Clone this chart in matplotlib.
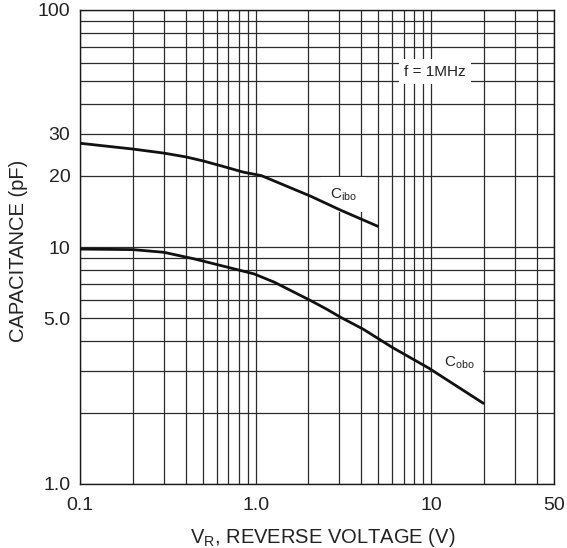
import matplotlib
matplotlib.use("Agg")
import matplotlib.pyplot as plt
from matplotlib.ticker import FixedLocator, FixedFormatter, LogLocator, NullFormatter

plt.rcParams['font.family'] = ['Liberation Sans', 'DejaVu Sans']
plt.rcParams['mathtext.fontset'] = 'custom'
plt.rcParams['mathtext.rm'] = 'Liberation Sans'
plt.rcParams['mathtext.it'] = 'Liberation Sans:italic'
plt.rcParams['mathtext.bf'] = 'Liberation Sans:bold'

# ---- data ----
cibo_v = [0.1, 0.2, 0.3, 0.4, 0.5, 0.65, 0.85, 1.08, 2.05, 3.05, 5.0]
cibo_c = [27.4, 25.9, 24.9, 24.0, 23.1, 21.9, 20.7, 20.0, 16.4, 14.3, 12.2]

cobo_v = [0.1, 0.2, 0.3, 0.45, 0.7, 0.98, 1.28, 2.05, 2.5, 3.05, 4.1, 6.0, 9.7, 20.0]
cobo_c = [9.8, 9.75, 9.5, 8.9, 8.2, 7.7, 7.1, 5.95, 5.5, 5.05, 4.5, 3.77, 3.08, 2.18]

x_ticks = [0.1, 1.0, 10, 50]
x_tick_labels = ['0.1', '1.0', '10', '50']
y_ticks = [1.0, 5.0, 10, 20, 30, 100]
y_tick_labels = ['1.0', '5.0', '10', '20', '30', '100']

x_limits = (0.1, 50)
y_limits = (1.0, 100)

# ---- figure ----
W, H = 567, 548
fig = plt.figure(figsize=(W / 100, H / 100), dpi=100)
ax = fig.add_axes([80 / W, (H - 484) / H, (554 - 80) / W, (484 - 10) / H])

ax.set_xscale('log')
ax.set_yscale('log')
ax.set_xlim(*x_limits)
ax.set_ylim(*y_limits)

ax.xaxis.set_major_locator(FixedLocator(x_ticks))
ax.xaxis.set_major_formatter(FixedFormatter(x_tick_labels))
ax.yaxis.set_major_locator(FixedLocator(y_ticks))
ax.yaxis.set_major_formatter(FixedFormatter(y_tick_labels))
ax.xaxis.set_minor_locator(LogLocator(base=10, subs=range(1, 10), numticks=20))
ax.yaxis.set_minor_locator(LogLocator(base=10, subs=range(1, 10), numticks=20))
ax.xaxis.set_minor_formatter(NullFormatter())
ax.yaxis.set_minor_formatter(NullFormatter())

ax.tick_params(which='both', length=0)
ax.tick_params(axis='y', which='major', pad=7, labelsize=14, colors='#222222')
ax.tick_params(axis='x', which='major', pad=9, labelsize=14, colors='#222222')

grid_color = '#2b2b2b'
ax.grid(True, which='both', color=grid_color, linewidth=0.9)
ax.set_axisbelow(True)
for s in ax.spines.values():
    s.set_color('#1a1a1a')
    s.set_linewidth(1.0)

ax.plot(cibo_v, cibo_c, color='#111111', linewidth=2.0, zorder=4, solid_capstyle='butt')
ax.plot(cobo_v, cobo_c, color='#111111', linewidth=2.0, zorder=4, solid_capstyle='butt')

# annotations
ax.text(10.5, 55, 'f = 1MHz', ha='center', va='center', fontsize=11, color='#222222',
        zorder=3, bbox=dict(boxstyle='square,pad=0.35', fc='white', ec='none'))
ax.text(3.17, 16.0, r'C$_{\rm ibo}$', ha='center', va='baseline', fontsize=11, color='#222222',
        zorder=3, bbox=dict(boxstyle='square,pad=0.6', fc='white', ec='none'))
ax.text(14.4, 3.13, r'C$_{\rm obo}$', ha='center', va='baseline', fontsize=11, color='#222222',
        zorder=3, bbox=dict(boxstyle='square,pad=0.6', fc='white', ec='none'))

fig.text(19 / W, (H - 251) / H, 'CAPACITANCE (pF)', rotation=90, ha='center', va='center',
         fontsize=14.5, color='#222222')
fig.text(323 / W, (H - 542.7) / H, r'V$_{\rm R}$, REVERSE VOLTAGE (V)', ha='center', va='baseline',
         fontsize=14.5, color='#222222')

fig.savefig('out.png', dpi=100, facecolor='white')
